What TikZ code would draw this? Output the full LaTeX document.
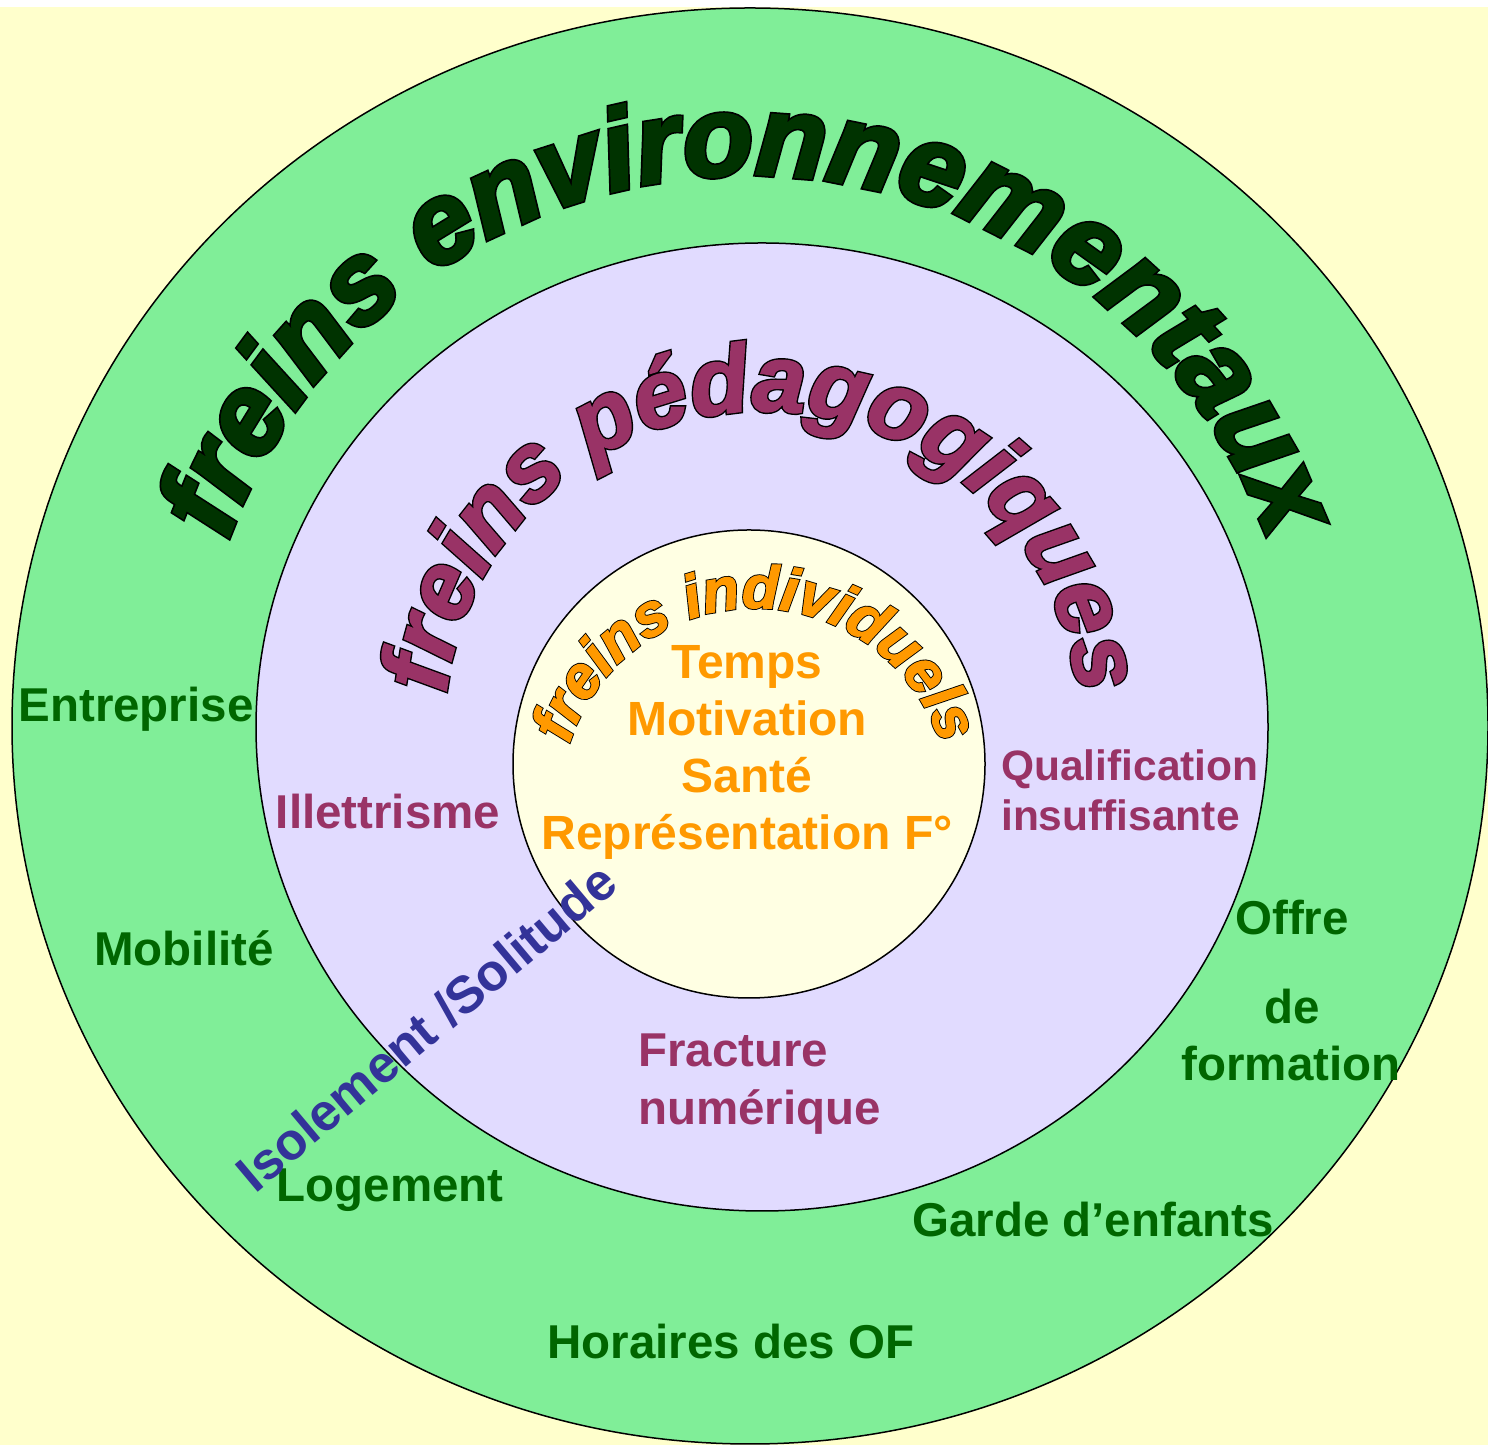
\documentclass[tikz,border=0pt]{standalone}
\usepackage{fontspec}
\setmainfont{Liberation Sans}
\usetikzlibrary{decorations.text}

\newfontfamily\titlefont{Liberation Sans Bold Italic}[FakeBold=2]
\newfontfamily\titleedge{Liberation Sans Bold Italic}[FakeBold=5]

\definecolor{bgyellow}{HTML}{FFFFCC}
\definecolor{envfill}{HTML}{80EE98}
\definecolor{pedfill}{HTML}{E1DBFF}
\definecolor{indfill}{HTML}{FFFFE3}
\definecolor{envdark}{HTML}{003300}
\definecolor{envgreen}{HTML}{006600}
\definecolor{pedplum}{HTML}{993366}
\definecolor{indorange}{HTML}{FF9900}
\definecolor{isoblue}{HTML}{333399}

\tikzset{
  arcword/.style n args={3}{decorate,
    decoration={text along path, text align=center, text color=#1, text={|#2|#3}}},
  envlab/.style={font=\bfseries\fontsize{47.5}{55}\selectfont, text=envgreen, inner sep=0pt},
  pedlab/.style={font=\bfseries\fontsize{47.5}{58}\selectfont, text=pedplum, inner sep=0pt},
  indlab/.style={font=\bfseries\fontsize{48}{57}\selectfont, text=indorange, inner sep=0pt}
}

\begin{document}
\begin{tikzpicture}[x=1pt,y=1pt]

\useasboundingbox (0,0) rectangle (1488,1445);
\fill[white] (0,0) rectangle (1488,1445);
\fill[bgyellow] (0,0) rectangle (1488,1438);

% the three rings
\draw[fill=envfill,line width=1.5] (750,719) ellipse [x radius=738, y radius=718];
\draw[fill=pedfill,line width=1.5] (762,718) ellipse [x radius=506, y radius=484];
\draw[fill=indfill,line width=1.5] (749,681) ellipse [x radius=236, y radius=234];

% titles on arcs
\path[arcword={black}{\titleedge\fontsize{114}{114}\selectfont}{freins environnementaux}]
  (748,717) ++(170:553) arc[start angle=170, end angle=10, radius=553];
\path[arcword={envdark}{\titlefont\fontsize{114}{114}\selectfont}{freins environnementaux}]
  (748,717) ++(170:553) arc[start angle=170, end angle=10, radius=553];

\path[arcword={black}{\titleedge\fontsize{95}{95}\selectfont}{freins pédagogiques}]
  (762,716) ++(178:318) arc[start angle=178, end angle=2, radius=318];
\path[arcword={pedplum}{\titlefont\fontsize{95}{95}\selectfont}{freins pédagogiques}]
  (762,716) ++(178:318) arc[start angle=178, end angle=2, radius=318];

\path[arcword={black}{\titleedge\fontsize{60}{60}\selectfont}{freins individuels}]
  (755,642) ++(178:195) arc[start angle=178, end angle=2, radius=195];
\path[arcword={indorange}{\titlefont\fontsize{60}{60}\selectfont}{freins individuels}]
  (755,642) ++(178:195) arc[start angle=178, end angle=2, radius=195];

% environnement
\node[envlab] (entreprise) at (136,736) {Entreprise};
\node[envlab] (mobilite) at (184,497) {Mobilité};
\node[envlab] (logement) at (390,255) {Logement};
\node[envlab] (horaires) at (731,103) {Horaires des OF};
\node[envlab] (garde) at (1093,225) {Garde d’enfants};
\node[envlab] (offre) at (1292,527) {Offre};
\node[envlab] (de) at (1292,438) {de};
\node[envlab] (formation) at (1291,381) {formation};

% pedagogie
\node[pedlab] (illettrisme) at (388,633) {Illettrisme};
\node[pedlab, font=\bfseries\fontsize{42.5}{50}\selectfont, align=left, anchor=west]
  (qualif) at (1001,655) {Qualification\\insuffisante};
\node[pedlab, align=left, anchor=west] (fracture) at (638,361) {Fracture\\numérique};

% individuel
\node[indlab, align=center] (indiv) at (747,693) {Temps\\Motivation\\Santé\\Représentation F°};

\node[font=\bfseries\fontsize{52}{52}\selectfont, text=isoblue, rotate=40, inner sep=0pt]
  (isolement) at (426,418) {Isolement /Solitude};

\end{tikzpicture}
\end{document}
